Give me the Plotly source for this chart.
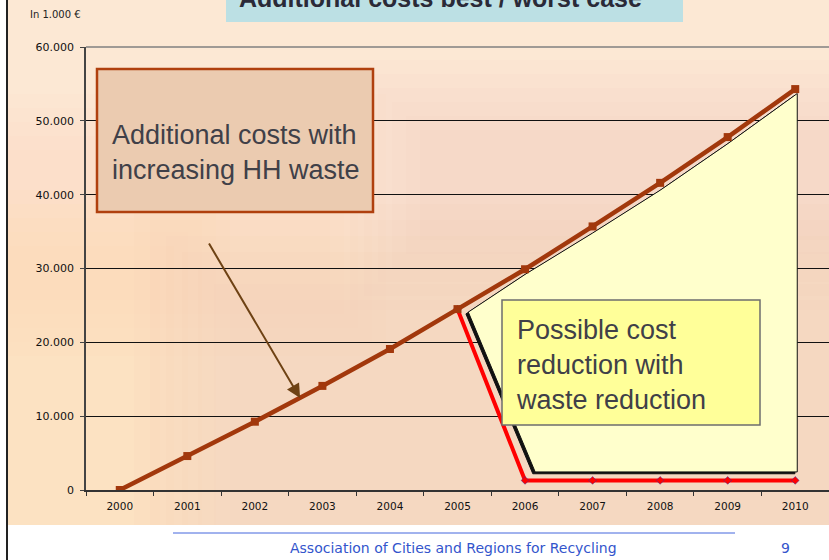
import plotly.graph_objects as go

# ---------------- data ----------------
years = ["2000", "2001", "2002", "2003", "2004", "2005",
         "2006", "2007", "2008", "2009", "2010"]
worst_case = [0, 4600, 9250, 14100, 19100, 24500, 29900, 35700, 41600, 47800, 54300]
best_years = ["2005", "2006", "2007", "2008", "2009", "2010"]
best_case = [24500, 1300, 1300, 1300, 1300, 1300]

y_ticks = [0, 10000, 20000, 30000, 40000, 50000, 60000]
y_tick_labels = ["0", "10.000", "20.000", "30.000", "40.000", "50.000", "60.000"]

# highlighted "possible cost reduction" region (category index, value)
region_x = [5.16, 6.0, 7.0, 8.0, 9.0, 10.03, 10.03, 6.15]
region_y = [24100, 29200, 34800, 40600, 46900, 53700, 2450, 2450]

# ---------------- geometry helpers (pixel -> paper) ----------------
W, H = 829, 560
L, R, T, B = 86, 0, 47, 70
PW, PH = W - L - R, H - T - B


def px(x):
    return (x - L) / PW


def py(y):
    return (H - B - y) / PH


def path_from(xs, ys, dx=0.0, dy=0.0):
    pts = [f"{x + dx},{y + dy}" for x, y in zip(xs, ys)]
    return "M " + " L ".join(pts) + " Z"


fig = go.Figure()

fig.add_trace(go.Scatter(
    x=best_years, y=best_case, mode="lines+markers",
    line=dict(color="#FF0000", width=4),
    marker=dict(symbol="diamond", size=6, color="#FF0000",
                line=dict(color="#3030A0", width=0.5)),
    hoverinfo="skip", showlegend=False,
))
fig.add_trace(go.Scatter(
    x=years, y=worst_case, mode="lines+markers",
    line=dict(color="#A2380C", width=4.5),
    marker=dict(symbol="square", size=8, color="#A2380C"),
    hoverinfo="skip", showlegend=False,
))

shapes = []
# slide background
shapes.append(dict(type="rect", xref="paper", yref="paper",
                   x0=px(8), x1=px(829), y0=py(525), y1=py(-5),
                   fillcolor="#FCE8D4", line=dict(width=0), layer="below"))


def soft_patch(x0, x1, y0, y1, rgb, steps=6, alpha=0.06, grow=14):
    for i in range(steps):
        g = grow * (steps - 1 - i)
        shapes.append(dict(type="rect", xref="paper", yref="paper",
                           x0=px(max(8, x0 - g)), x1=px(min(829, x1 + g)),
                           y0=py(min(525, y1 + g)), y1=py(max(-5, y0 - g)),
                           fillcolor=f"rgba({rgb},{alpha})", line=dict(width=0),
                           layer="below"))


# soft pink / orange tints
soft_patch(230, 829, 300, 525, "235,165,155", steps=7, alpha=0.035, grow=16)
soft_patch(8, 160, 260, 525, "250,220,165", steps=6, alpha=0.05, grow=14)
soft_patch(420, 829, 130, 240, "230,175,145", steps=6, alpha=0.03, grow=14)
soft_patch(8, 330, 150, 300, "240,180,155", steps=5, alpha=0.03, grow=14)

# shaded region shadow + region
shapes.append(dict(type="path", xref="x", yref="y",
                   path=path_from(region_x, region_y, dx=-0.035, dy=-250),
                   fillcolor="#111111", line=dict(color="#111111", width=1),
                   layer="between"))
shapes.append(dict(type="path", xref="x", yref="y",
                   path=path_from(region_x, region_y),
                   fillcolor="#FFFFCC", line=dict(color="#111111", width=1),
                   layer="between"))

# gray top border line of the plot
shapes.append(dict(type="line", xref="paper", yref="paper",
                   x0=0, x1=1, y0=1, y1=1, line=dict(color="#808080", width=1.5),
                   layer="between"))

# text boxes
shapes.append(dict(type="rect", xref="paper", yref="paper",
                   x0=px(97), x1=px(373), y0=py(212), y1=py(69),
                   fillcolor="#EBCBB0", line=dict(color="#B0400E", width=2.5),
                   layer="above"))
shapes.append(dict(type="rect", xref="paper", yref="paper",
                   x0=px(502), x1=px(760), y0=py(425), y1=py(300),
                   fillcolor="#FFFF99", line=dict(color="#6E6E6E", width=1.5),
                   layer="above"))

# title box
shapes.append(dict(type="rect", xref="paper", yref="paper",
                   x0=px(226), x1=px(683), y0=py(22), y1=py(-10),
                   fillcolor="#BCE0E4", line=dict(width=0), layer="above"))

# left slide border
shapes.append(dict(type="line", xref="paper", yref="paper",
                   x0=px(7), x1=px(7), y0=py(562), y1=py(-2),
                   line=dict(color="#222222", width=2), layer="above"))
# footer rule
shapes.append(dict(type="line", xref="paper", yref="paper",
                   x0=px(173), x1=px(735), y0=py(533), y1=py(533),
                   line=dict(color="#4466DD", width=1), layer="above"))

annotations = []
annotations.append(dict(
    xref="paper", yref="paper", x=px(440), y=py(-2), xanchor="center", yanchor="middle",
    text="<b>Additional costs best / worst case</b>", showarrow=False,
    font=dict(family="Liberation Sans, Arial", size=25, color="#2A2A38")))
annotations.append(dict(
    xref="paper", yref="paper", x=px(110), y=py(152), xanchor="left", yanchor="middle",
    align="left", text="Additional costs with<br>increasing HH waste", showarrow=False,
    font=dict(family="Liberation Sans, Arial", size=27, color="#404048")))
annotations.append(dict(
    xref="paper", yref="paper", x=px(514), y=py(365), xanchor="left", yanchor="middle",
    align="left", text="Possible cost<br>reduction with<br>waste reduction", showarrow=False,
    font=dict(family="Liberation Sans, Arial", size=27, color="#404048")))
annotations.append(dict(
    xref="x", yref="y", x=2.67, y=12450, ax=-92, ay=-156, axref="pixel", ayref="pixel",
    text="", showarrow=True, arrowhead=2, arrowsize=1.4, arrowwidth=2,
    arrowcolor="#6E4214"))
annotations.append(dict(
    xref="paper", yref="paper", x=px(28), y=py(14), xanchor="left", yanchor="middle",
    text="In 1.000 €", showarrow=False,
    font=dict(family="DejaVu Sans", size=10, color="#222222")))
annotations.append(dict(
    xref="paper", yref="paper", x=px(453), y=py(548), xanchor="center", yanchor="middle",
    text="Association of Cities and Regions for Recycling", showarrow=False,
    font=dict(family="DejaVu Sans", size=14, color="#3355CC")))
annotations.append(dict(
    xref="paper", yref="paper", x=px(785), y=py(548), xanchor="center", yanchor="middle",
    text="9", showarrow=False,
    font=dict(family="DejaVu Sans", size=14, color="#3355CC")))

fig.update_layout(
    width=W, height=H,
    margin=dict(l=L, r=R, t=T, b=B, pad=0),
    paper_bgcolor="white",
    plot_bgcolor="rgba(0,0,0,0)",
    shapes=shapes,
    annotations=annotations,
    showlegend=False,
    xaxis=dict(
        type="category", categoryorder="array", categoryarray=years,
        range=[-0.5, 10.5], tickson="boundaries", ticks="outside", ticklen=4,
        tickcolor="#333333", showline=True, linecolor="#333333", linewidth=1.5,
        showgrid=False, zeroline=False, ticklabelstandoff=6,
        tickfont=dict(family="DejaVu Sans", size=10.5, color="#111111"),
    ),
    yaxis=dict(
        range=[0, 60000], tickvals=y_ticks, ticktext=y_tick_labels,
        ticks="outside", ticklen=4, tickcolor="#444444",
        showline=True, linecolor="#444444", linewidth=1.5,
        showgrid=True, gridcolor="#111111", gridwidth=1, zeroline=False,
        ticklabelstandoff=4,
        tickfont=dict(family="DejaVu Sans", size=11, color="#111111"),
    ),
)

fig.write_html(
    "out.html",
    config={"displayModeBar": False},
    post_script="document.body.style.margin='0px';document.body.style.overflow='hidden';",
)
